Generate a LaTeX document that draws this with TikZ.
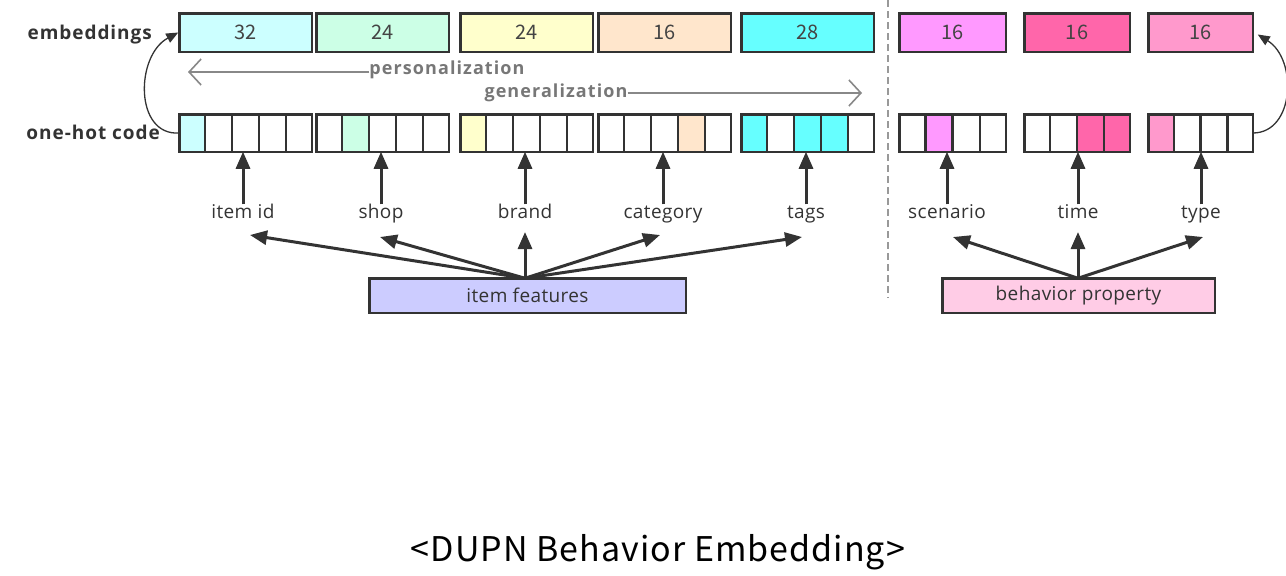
\documentclass[tikz,border=0pt]{standalone}
\usepackage{fontspec}
\setmainfont{Open Sans}
\newfontfamily\numfont{Noto Sans CJK KR}
\newfontfamily\capfont[LetterSpace=3]{Noto Sans CJK KR}
\newfontfamily\rowfont[LetterSpace=5]{Open Sans}
\newfontfamily\featfont[LetterSpace=2]{Open Sans}
\newfontfamily\hintfont[LetterSpace=6]{Open Sans}
\usetikzlibrary{arrows.meta}

\definecolor{edge}{HTML}{333333}
\definecolor{numtext}{HTML}{444444}
\definecolor{hinttext}{HTML}{777777}
\definecolor{hintline}{HTML}{888888}
\definecolor{sepline}{HTML}{999999}
\definecolor{cItem}{HTML}{CCFFFF}
\definecolor{cShop}{HTML}{CCFFE6}
\definecolor{cBrand}{HTML}{FFFFCC}
\definecolor{cCat}{HTML}{FFE6CC}
\definecolor{cTags}{HTML}{66FFFF}
\definecolor{cScen}{HTML}{FF99FF}
\definecolor{cTime}{HTML}{FF66AA}
\definecolor{cType}{HTML}{FF99CC}
\definecolor{cFeat}{HTML}{CCCCFF}
\definecolor{cBeh}{HTML}{FFCCE6}

% embedding box: #1 name, #2 left, #3 right, #4 colour, #5 size
\newcommand\embbox[5]{%
  \pgfmathsetmacro\ebw{#3-#2-2.5}%
  \pgfmathsetmacro\ebx{(#2+#3)/2}%
  \node[embcell, fill=#4, minimum width=\ebw pt] (#1) at (\ebx,32.5) {#5};
}
% one-hot group: #1 name, #2 left, #3 right, #4 cells, #5 hot cells, #6 colour
\newcommand\ohgroup[6]{%
  \pgfmathsetmacro\ohw{(#3-#2)/#4}%
  \pgfmathsetmacro\ohbw{#3-#2-2.5}%
  \pgfmathsetmacro\ohx{(#2+#3)/2}%
  \pgfmathtruncatemacro\ohlast{#4-1}%
  \node[ohcell, minimum width=\ohbw pt] (#1) at (\ohx,133) {};
  \foreach \j in {#5} \fill[#6] ({#2+(\j-1)*\ohw},114.25) rectangle ({#2+\j*\ohw},151.75);
  \foreach \k in {1,...,\ohlast} \draw[cellrule] ({#2+\k*\ohw},114.25) -- ({#2+\k*\ohw},151.75);
  \draw[cellrule] (#1.north west) rectangle (#1.south east);
}

\begin{document}
\begin{tikzpicture}[x=1pt,y=-1pt,
  embcell/.style={draw=edge, line width=2.5pt, minimum height=38.5pt, inner sep=0pt, outer sep=0pt,
    font=\numfont\fontsize{20}{20}\selectfont, text=numtext},
  ohcell/.style={draw=edge, fill=white, line width=2.5pt, minimum height=37.5pt, inner sep=0pt, outer sep=0pt},
  cellrule/.style={draw=edge, line width=2.5pt},
  rowlabel/.style={font=\rowfont\bfseries\fontsize{19}{19}\selectfont, text=edge, inner sep=1pt},
  featlabel/.style={font=\featfont\fontsize{19}{19}\selectfont, text=edge, text height=13pt, text depth=4pt, inner sep=1pt},
  srcbox/.style={draw=edge, line width=2.5pt, minimum height=34.5pt, inner sep=0pt, outer sep=0pt,
    font=\featfont\fontsize{19}{19}\selectfont, text=edge},
  feed/.style={draw=edge, line width=3pt, -{Triangle[length=17pt,width=14pt]}},
  loopback/.style={draw=edge, line width=1.3pt, -{Triangle[length=12pt,width=10pt]}},
  hint/.style={font=\hintfont\bfseries\fontsize{18}{18}\selectfont, text=hinttext, inner sep=0pt},
  hintarrow/.style={draw=hintline, line width=1.6pt, -{Straight Barb[length=12pt,width=26pt,line width=1.6pt]}},
]
\useasboundingbox (0,0) rectangle (1286,576);

% embedding vectors
\embbox{eItem}{178}{313}{cItem}{32}
\embbox{eShop}{315}{450}{cShop}{24}
\embbox{eBrand}{459}{594}{cBrand}{24}
\embbox{eCat}{597}{732}{cCat}{16}
\embbox{eTags}{740}{875}{cTags}{28}
\embbox{eScen}{898}{1007}{cScen}{16}
\embbox{eTime}{1023}{1131}{cTime}{16}
\embbox{eType}{1147}{1254}{cType}{16}

% one-hot codes
\ohgroup{oItem}{178}{313}{5}{1}{cItem}
\ohgroup{oShop}{315}{450}{5}{2}{cShop}
\ohgroup{oBrand}{459}{594}{5}{1}{cBrand}
\ohgroup{oCat}{597}{732}{5}{4}{cCat}
\ohgroup{oTags}{740}{875}{5}{1,3,4}{cTags}
\ohgroup{oScen}{898}{1007}{4}{2}{cScen}
\ohgroup{oTime}{1023}{1131}{4}{3,4}{cTime}
\ohgroup{oType}{1147}{1254}{4}{1}{cType}

% row labels
\node[rowlabel, anchor=east] (lEmb) at (153,35) {embeddings};
\node[rowlabel, anchor=east] (lOne) at (161,132) {one-hot code};

% lookup from one-hot code to embedding
\draw[loopback] (oItem.west) .. controls +(-45,3) and +(-43,23) .. ([xshift=-1pt]eItem.west);
\draw[loopback] (oType.east) .. controls +(42,0) and +(40,25) .. ([xshift=5pt,yshift=-2pt]eType.east);

% personalization / generalization
\node[hint] (pers) at (447,70) {personalization};
\node[hint] (gen) at (556,93) {generalization};
\coordinate (persEnd) at (188,72);
\coordinate (genEnd) at (862,93);
\draw[hintarrow] ([yshift=-2pt]pers.west) -- (persEnd);
\draw[hintarrow] (gen.east) -- (genEnd);

% separator between item and behaviour fields
\draw[sepline, line width=2.5pt, dash pattern=on 7pt off 4pt] (888,0) -- (888,298);

% feature labels
\node[featlabel] (fId) at (243,214) {item id};
\node[featlabel] (fShop) at (381,214) {shop};
\node[featlabel] (fBrand) at (525,214) {brand};
\node[featlabel] (fCat) at (663,214) {category};
\node[featlabel] (fTags) at (806,214) {tags};
\node[featlabel] (fScen) at (947,214) {scenario};
\node[featlabel] (fTime) at (1078,214) {time};
\node[featlabel] (fType) at (1201,214) {type};

\foreach \f/\o in {fId/oItem,fShop/oShop,fBrand/oBrand,fCat/oCat,fTags/oTags,fScen/oScen,fTime/oTime,fType/oType}
  \draw[feed] (\f.north) -- (\f.north |- \o.south);

% source boxes
\node[srcbox, fill=cFeat, minimum width=316.5pt] (items) at (527.5,295.5) {item features};
\node[srcbox, fill=cBeh, minimum width=272.5pt] (behav) at (1078.5,295.5) {behavior property};

\coordinate (tId) at (250,235);
\coordinate (tShop) at (380,237);
\coordinate (tBrand) at (525,232);
\coordinate (tCat) at (660,235);
\coordinate (tTags) at (802,237);
\coordinate (tScen) at (953,237);
\coordinate (tTime) at (1078,232);
\coordinate (tType) at (1203,237);
\coordinate (iSrc) at (525,277);
\coordinate (bSrc) at (1078,277);

\foreach \t in {tId,tShop,tBrand,tCat,tTags} \draw[feed] (items.north -| iSrc) -- (\t);
\foreach \t in {tScen,tTime,tType} \draw[feed] (behav.north -| bSrc) -- (\t);

% caption
\node[font=\capfont\fontsize{34}{34}\selectfont, text=black] (caption) at (658,552) {<DUPN Behavior Embedding>};
\end{tikzpicture}
\end{document}
